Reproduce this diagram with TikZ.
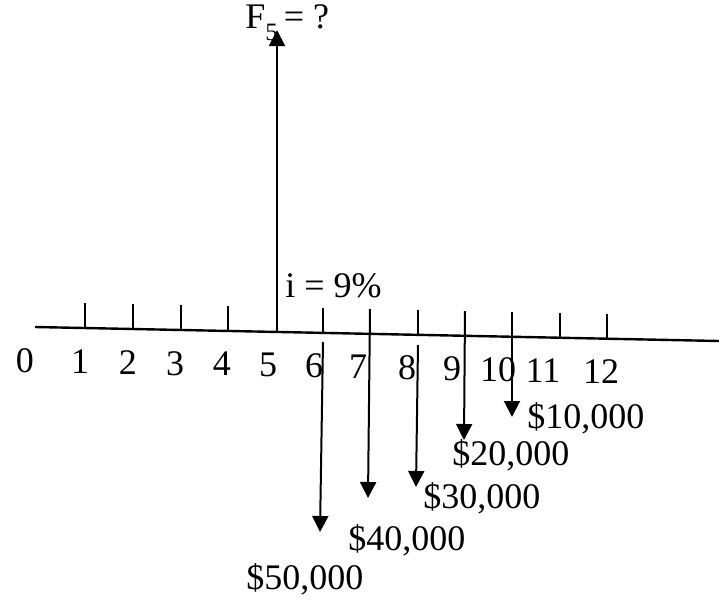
\documentclass[tikz,border=0pt]{standalone}
\usepackage{fontspec}
\setmainfont{Liberation Serif}
\usetikzlibrary{arrows.meta}

\begin{document}
\begin{tikzpicture}[
    x=0.5pt, y=-0.5pt,
    font=\fontsize{18}{21}\selectfont,
    axis/.style={line width=1.2pt},
    tickmark/.style={line width=1pt},
    flow/.style={line width=1pt, -{Triangle[width=8pt,length=8pt]}},
    period/.style={anchor=base, inner sep=0pt},
    amount/.style={anchor=base west, inner sep=0pt}
]
\useasboundingbox (0,0) rectangle (719,600);

% --- Time line ---
\coordinate (axL) at (35,327);
\coordinate (axR) at (719,341);
\draw [axis] (axL) -- (axR);

% Ticks
\foreach \x in {85,133,181,228,323,370,418,465,512,560,607}
    \draw [tickmark] (\x,{327+0.0205*(\x-35)}) -- ++(0,-25);

% Period labels
\node (p0) at (25,372) [period] {0};
\node (p1) at (80,373.1) [period] {1};
\node (p2) at (128,374.1) [period] {2};
\node (p3) at (175,375) [period] {3};
\node (p4) at (222,375.9) [period] {4};
\node (p5) at (268,376.9) [period] {5};
\node (p6) at (314,377.8) [period] {6};
\node (p7) at (358,378.7) [period] {7};
\node (p8) at (407,379.6) [period] {8};
\node (p9) at (452,380.5) [period] {9};
\node (p10) at (498,381.5) [period] {10};
\node (p11) at (543,382.4) [period] {11};
\node (p12) at (601,383.5) [period] {12};

% --- Future worth ---
\coordinate (f5base) at (277,332);
\coordinate (f5tip) at (277,30);
\node (fval) at (245,28) [amount] {F\raisebox{-6pt}{\fontsize{12.5}{13}\selectfont 5}\,= ?};
\node (rate) at (285,297) [amount] {i = 9\%};
\draw [flow] (f5base) -- (f5tip);

% --- Withdrawals ---
\coordinate (w6s) at (323,342);  \coordinate (w6e) at (320,532);
\coordinate (w7s) at (370,309);  \coordinate (w7e) at (368,498);
\coordinate (w8s) at (418,345);  \coordinate (w8e) at (416,487);
\coordinate (w9s) at (465,311);  \coordinate (w9e) at (464,440);
\coordinate (w10s) at (512,312); \coordinate (w10e) at (512,417);

\draw [flow] (w6s) -- (w6e);
\draw [flow] (w7s) -- (w7e);
\draw [flow] (w8s) -- (w8e);
\draw [flow] (w9s) -- (w9e);
\draw [flow] (w10s) -- (w10e);

\node (a10) at (527,428) [amount] {\$10,000};
\node (a20) at (452,465) [amount] {\$20,000};
\node (a30) at (423,508) [amount] {\$30,000};
\node (a40) at (348,550) [amount] {\$40,000};
\node (a50) at (246,589) [amount] {\$50,000};

\end{tikzpicture}
\end{document}
